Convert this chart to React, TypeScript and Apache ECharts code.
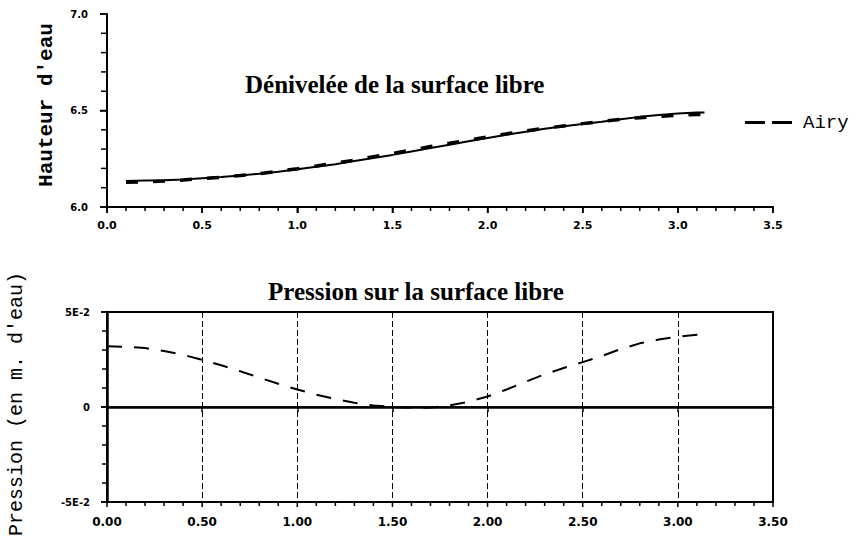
import React, { useEffect, useRef } from "react";
import * as echarts from "echarts";

// ---- Data ----
const xTop = [0.1, 0.2, 0.3, 0.4, 0.5, 0.6, 0.7, 0.8, 0.9, 1.0, 1.1, 1.2, 1.3, 1.4, 1.5, 1.6, 1.7, 1.8, 1.9, 2.0, 2.1, 2.2, 2.3, 2.4, 2.5, 2.6, 2.7, 2.8, 2.9, 3.0, 3.1, 3.14];
const hauteurCalcul = [6.135, 6.137, 6.139, 6.143, 6.149, 6.155, 6.163, 6.172, 6.183, 6.195, 6.208, 6.222, 6.238, 6.254, 6.27, 6.288, 6.306, 6.323, 6.341, 6.358, 6.374, 6.39, 6.405, 6.418, 6.43, 6.442, 6.455, 6.467, 6.477, 6.485, 6.49, 6.49];
const hauteurAiry = [6.128, 6.131, 6.135, 6.14, 6.147, 6.154, 6.163, 6.173, 6.185, 6.198, 6.212, 6.227, 6.243, 6.26, 6.277, 6.295, 6.313, 6.33, 6.347, 6.363, 6.379, 6.394, 6.408, 6.42, 6.432, 6.443, 6.454, 6.463, 6.47, 6.476, 6.479, 6.48];

const xBottom = [0.0, 0.1, 0.2, 0.3, 0.4, 0.5, 0.6, 0.7, 0.8, 0.9, 1.0, 1.1, 1.2, 1.3, 1.4, 1.5, 1.6, 1.7, 1.8, 1.9, 2.0, 2.1, 2.2, 2.3, 2.4, 2.5, 2.6, 2.7, 2.8, 2.9, 3.0, 3.1, 3.14];
const pression = [0.032, 0.0317, 0.031, 0.0295, 0.0275, 0.0248, 0.022, 0.0188, 0.0155, 0.0122, 0.0092, 0.0065, 0.0042, 0.0022, 0.0008, 0.0, -0.0004, -0.0003, 0.0008, 0.0028, 0.0055, 0.0092, 0.0133, 0.0172, 0.0205, 0.0236, 0.0268, 0.0305, 0.0335, 0.0355, 0.037, 0.038, 0.0383];

// axis tick positions
const xMajorTicks = [0, 0.5, 1, 1.5, 2, 2.5, 3, 3.5];
const xMinorTicks = [0.1, 0.2, 0.3, 0.4, 0.6, 0.7, 0.8, 0.9, 1.1, 1.2, 1.3, 1.4, 1.6, 1.7, 1.8, 1.9, 2.1, 2.2, 2.3, 2.4, 2.6, 2.7, 2.8, 2.9, 3.1, 3.2, 3.3, 3.4];
const topYMajorTicks = [6, 6.5, 7];
const topYMinorTicks = [6.1, 6.2, 6.3, 6.4, 6.6, 6.7, 6.8, 6.9];
const botYMajorTicks = [-0.05, 0, 0.05];
const botYMinorTicks = [-0.04, -0.03, -0.02, -0.01, 0.01, 0.02, 0.03, 0.04];

const titleTop = "Dénivelée de la surface libre";
const titleBottom = "Pression sur la surface libre";
const yNameTop = "Hauteur d'eau";
const yNameBottom = "Pression (en m. d'eau)";
const legendName = "Airy";

export default function App() {
  const ref = useRef<HTMLDivElement>(null);

  useEffect(() => {
    if (!ref.current) return;
    const chart = echarts.init(ref.current, null, { renderer: "svg" });
    const black = "#000";
    const labelFont = { fontFamily: "DejaVu Sans", fontWeight: "bold" as const, fontSize: 11, color: black };

    const tickSeries = (gi: number, data: number[][], dir: "x" | "y") => ({
      type: "custom",
      name: "ticks" + gi + dir,
      xAxisIndex: gi,
      yAxisIndex: gi,
      clip: false,
      silent: true,
      z: 100,
      encode: { x: 0, y: 1 },
      data,
      renderItem: (_params: any, api: any) => {
        const p = api.coord([api.value(0), api.value(1)]);
        const len = api.value(2);
        const shape =
          dir === "x"
            ? { x1: p[0], y1: p[1], x2: p[0], y2: p[1] + len }
            : { x1: p[0] - len, y1: p[1], x2: p[0], y2: p[1] };
        return { type: "line", shape, style: { stroke: black, lineWidth: 1.5, fill: null } };
      },
    });

    chart.setOption({
      animation: false,
      title: [
        {
          text: titleTop,
          left: 245,
          top: 72,
          padding: 0,
          textStyle: { fontFamily: "Liberation Serif", fontWeight: "bold", fontSize: 25, color: black },
        },
        {
          text: titleBottom,
          left: 268,
          top: 279,
          padding: 0,
          textStyle: { fontFamily: "Liberation Serif", fontWeight: "bold", fontSize: 25, color: black },
        },
      ],
      legend: {
        data: [{ name: legendName, icon: "path://M0,0H20V3H0Z M27,0H47V3H27Z" }],
        left: 745,
        top: 113,
        padding: 0,
        itemWidth: 47,
        itemHeight: 3,
        itemStyle: { color: black, borderWidth: 0 },
        textStyle: { fontFamily: "Liberation Mono", fontSize: 19, color: black, padding: [0, 0, 0, 6] },
      },
      graphic: [
        {
          type: "text",
          x: 46,
          y: 105,
          rotation: Math.PI / 2,
          style: {
            text: yNameTop,
            fontFamily: "Liberation Mono",
            fontWeight: "bold",
            fontSize: 21,
            fill: black,
            textAlign: "center",
            textVerticalAlign: "middle",
          },
        },
        {
          type: "text",
          x: 16,
          y: 404,
          rotation: Math.PI / 2,
          style: {
            text: yNameBottom,
            fontFamily: "Liberation Mono",
            fontSize: 20,
            fill: black,
            textAlign: "center",
            textVerticalAlign: "middle",
          },
        },
      ],
      grid: [
        { left: 107, top: 14, width: 666, height: 193, show: false },
        { left: 107, top: 312, width: 666, height: 190, show: true, borderColor: black, borderWidth: 2 },
      ],
      xAxis: [
        {
          gridIndex: 0,
          type: "value",
          min: 0,
          max: 3.5,
          interval: 0.5,
          axisLine: { show: true, lineStyle: { color: black, width: 2 } },
          axisTick: { show: true, length: 6, lineStyle: { color: black, width: 1.5 } },
          splitLine: { show: false },
          axisLabel: { ...labelFont, margin: 13, formatter: (v: number) => v.toFixed(1) },
        },
        {
          gridIndex: 1,
          type: "value",
          min: 0,
          max: 3.5,
          interval: 0.5,
          axisLine: { show: true, lineStyle: { color: black, width: 2.5 } },
          axisTick: { show: true, length: 5, lineStyle: { color: black, width: 1.5 } },
          splitLine: { show: true, lineStyle: { color: black, width: 1, type: [6, 3] } },
          axisLabel: { ...labelFont, fontSize: 12, margin: 14, formatter: (v: number) => v.toFixed(2) },
        },
      ],
      yAxis: [
        {
          gridIndex: 0,
          type: "value",
          min: 6,
          max: 7,
          interval: 0.5,
          axisLine: { show: true, lineStyle: { color: black, width: 2 } },
          axisTick: { show: true, length: 7, lineStyle: { color: black, width: 1.5 } },
          splitLine: { show: false },
          axisLabel: { ...labelFont, fontSize: 10, margin: 19, formatter: (v: number) => v.toFixed(1) },
        },
        {
          gridIndex: 1,
          type: "value",
          min: -0.05,
          max: 0.05,
          interval: 0.05,
          axisLine: { show: true, lineStyle: { color: black, width: 2.5 } },
          axisTick: { show: true, length: 6, lineStyle: { color: black, width: 1.5 } },
          splitLine: { show: false },
          axisLabel: {
            ...labelFont,
            fontSize: 10,
            margin: 17,
            formatter: (v: number) => {
              if (Math.abs(v) < 1e-9) return "0";
              return v > 0 ? "5E-2" : "-5E-2";
            },
          },
        },
      ],
      series: [
        {
          name: "Calcul",
          type: "line",
          xAxisIndex: 0,
          yAxisIndex: 0,
          showSymbol: false,
          symbol: "none",
          itemStyle: { color: black },
          lineStyle: { color: black, width: 2 },
          data: xTop.map((x, i) => [x, hauteurCalcul[i]]),
        },
        {
          name: legendName,
          type: "line",
          xAxisIndex: 0,
          yAxisIndex: 0,
          showSymbol: false,
          symbol: "none",
          itemStyle: { color: black },
          lineStyle: { color: black, width: 3.5, type: [12, 15] },
          data: xTop.map((x, i) => [x, hauteurAiry[i]]),
        },
        {
          name: "Pression",
          type: "line",
          xAxisIndex: 1,
          yAxisIndex: 1,
          showSymbol: false,
          symbol: "none",
          itemStyle: { color: black },
          lineStyle: { color: black, width: 2, type: [15, 12] },
          data: xBottom.map((x, i) => [x, pression[i]]),
          markLine: {
            silent: true,
            symbol: "none",
            label: { show: false },
            lineStyle: { color: black, type: "solid", width: 1.5 },
            data: [{ yAxis: 0 }],
          },
        },
        tickSeries(0, [...xMajorTicks.map((v) => [v, 6, 6]), ...xMinorTicks.map((v) => [v, 6, 4])], "x"),
        tickSeries(0, [...topYMajorTicks.map((v) => [0, v, 7]), ...topYMinorTicks.map((v) => [0, v, 6])], "y"),
        tickSeries(1, [...xMajorTicks.map((v) => [v, -0.05, 5]), ...xMinorTicks.map((v) => [v, -0.05, 4])], "x"),
        tickSeries(1, [...botYMajorTicks.map((v) => [0, v, 6]), ...botYMinorTicks.map((v) => [0, v, 5])], "y"),
      ],
    });

    return () => chart.dispose();
  }, []);

  return (
    <div style={{ position: "absolute", left: 0, top: 0, width: 859, height: 540, background: "#fff" }}>
      <div ref={ref} style={{ width: 859, height: 540 }} />
    </div>
  );
}
